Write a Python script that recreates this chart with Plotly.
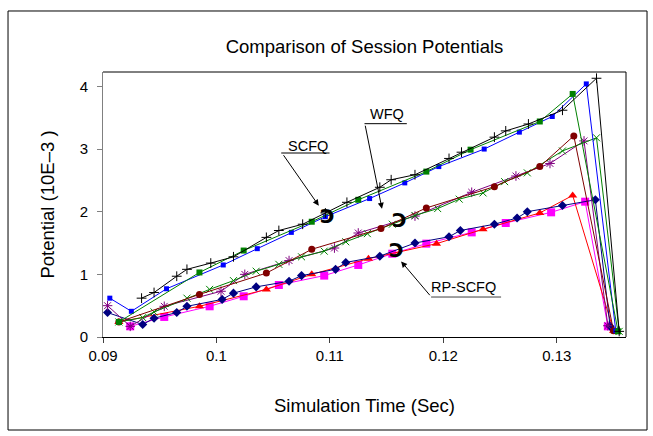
import plotly.graph_objects as go

# ---- data ----
scfq_plus_x = [0.0934, 0.0945, 0.0965, 0.0974, 0.0995, 0.1015, 0.1044, 0.1055, 0.1076, 0.1096, 0.1115,
               0.1144, 0.1154, 0.1175, 0.1205, 0.1216, 0.1245, 0.1255, 0.1275, 0.1305, 0.1335, 0.1355]
scfq_plus_y = [0.62, 0.71, 0.97, 1.08, 1.18, 1.28, 1.59, 1.70, 1.80, 1.98, 2.15,
               2.39, 2.51, 2.59, 2.85, 2.95, 3.19, 3.29, 3.40, 3.62, 4.13, 0.09]

scfq_gsq_x = [0.0914, 0.0985, 0.1024, 0.1084, 0.1125, 0.1185, 0.1224, 0.1285, 0.1314, 0.1354]
scfq_gsq_y = [0.24, 1.03, 1.38, 1.84, 2.19, 2.64, 2.99, 3.44, 3.88, 0.09]

scfq_bsq_x = [0.0906, 0.0925, 0.0956, 0.1006, 0.1036, 0.1066, 0.1096, 0.1135, 0.1166, 0.1196,
              0.1236, 0.1267, 0.1296, 0.1326, 0.1352]
scfq_bsq_y = [0.62, 0.41, 0.77, 1.15, 1.41, 1.67, 1.92, 2.21, 2.46, 2.72,
              3.00, 3.27, 3.52, 4.04, 0.10]

wfq_circ_x = [0.0914, 0.0985, 0.1044, 0.1084, 0.1145, 0.1185, 0.1245, 0.1285, 0.1315, 0.1350]
wfq_circ_y = [0.24, 0.68, 1.02, 1.40, 1.73, 2.06, 2.40, 2.72, 3.21, 0.10]

wfq_x_x = [0.0914, 0.0935, 0.0945, 0.0974, 0.0994, 0.1015, 0.1035, 0.1055, 0.1075, 0.1095, 0.1114,
           0.1133, 0.1155, 0.1175, 0.1195, 0.1214, 0.1235, 0.1254, 0.1274, 0.1305, 0.1335, 0.1355]
wfq_x_y = [0.24, 0.31, 0.40, 0.62, 0.76, 0.90, 1.05, 1.16, 1.28, 1.37, 1.52,
           1.65, 1.80, 1.94, 2.05, 2.20, 2.30, 2.48, 2.62, 2.97, 3.18, 0.09]

wfq_ast_x = [0.0904, 0.0924, 0.0954, 0.1004, 0.1025, 0.1064, 0.1104, 0.1125, 0.1175, 0.1225,
             0.1264, 0.1294, 0.1324, 0.1345]
wfq_ast_y = [0.50, 0.17, 0.49, 0.73, 1.00, 1.22, 1.42, 1.66, 1.93, 2.31,
             2.57, 2.77, 3.13, 0.18]

rp_dia_x = [0.0904, 0.0935, 0.0945, 0.0965, 0.0974, 0.1005, 0.1015, 0.1035, 0.1064, 0.1075, 0.1105,
            0.1114, 0.1144, 0.1175, 0.1205, 0.1215, 0.1245, 0.1265, 0.1274, 0.1305, 0.1334, 0.1347]
rp_dia_y = [0.39, 0.20, 0.30, 0.39, 0.49, 0.60, 0.70, 0.80, 0.89, 0.98, 1.08,
            1.19, 1.29, 1.50, 1.60, 1.70, 1.80, 1.90, 2.00, 2.10, 2.19, 0.17]

rp_tri_x = [0.0914, 0.0985, 0.1044, 0.1084, 0.1134, 0.1194, 0.1235, 0.1285, 0.1314, 0.1350]
rp_tri_y = [0.24, 0.49, 0.76, 1.00, 1.25, 1.49, 1.72, 1.98, 2.26, 0.10]

rp_msq_x = [0.0924, 0.0954, 0.0994, 0.1024, 0.1055, 0.1095, 0.1125, 0.1155, 0.1185, 0.1225,
            0.1255, 0.1295, 0.1325, 0.1345]
rp_msq_y = [0.17, 0.32, 0.49, 0.65, 0.83, 0.98, 1.15, 1.33, 1.49, 1.67,
            1.82, 1.99, 2.16, 0.17]

x_tick_vals = [0.09, 0.10, 0.11, 0.12, 0.13]
x_tick_text = ["0.09", "0.1", "0.11", "0.12", "0.13"]
y_tick_vals = [0, 1, 2, 3, 4]
y_tick_text = ["0", "1", "2", "3", "4"]

FONT = "Liberation Sans, Arial, sans-serif"

fig = go.Figure()

def add(x, y, color, symbol, size, open_line=False):
    marker = dict(symbol=symbol, size=size, color=color)
    if open_line:
        marker["line"] = dict(color=color, width=1)
    fig.add_trace(go.Scatter(x=x, y=y, mode="lines+markers",
                             line=dict(color=color, width=1),
                             marker=marker, showlegend=False, hoverinfo="skip"))

add(rp_msq_x, rp_msq_y, "#ff00ff", "square", 8)
add(rp_tri_x, rp_tri_y, "#ff0000", "triangle-up", 8)
add(rp_dia_x, rp_dia_y, "#000080", "diamond", 7)
add(wfq_ast_x, wfq_ast_y, "#800080", "asterisk", 8, True)
add(wfq_x_x, wfq_x_y, "#008000", "x-thin", 7, True)
add(wfq_circ_x, wfq_circ_y, "#800000", "circle", 7)
add(scfq_bsq_x, scfq_bsq_y, "#0000ff", "square", 5)
add(scfq_gsq_x, scfq_gsq_y, "#008000", "square", 6)
add(scfq_plus_x, scfq_plus_y, "#000000", "cross-thin", 7, True)

ann_font = dict(family=FONT, size=14.5, color="black")

annotations = [
    dict(x=0.10803, y=3.053, text="SCFQ", showarrow=False, font=ann_font, xanchor="center", yanchor="middle"),
    dict(x=0.11503, y=3.564, text="WFQ", showarrow=False, font=ann_font, xanchor="center", yanchor="middle"),
    dict(x=0.12177, y=0.795, text="RP-SCFQ", showarrow=False, font=ann_font, xanchor="center", yanchor="middle"),
    # arrows
    dict(x=0.10902, y=2.096, ax=0.10582, ay=2.926, axref="x", ayref="y", text="", showarrow=True,
         arrowhead=2, arrowsize=1.2, arrowwidth=1, arrowcolor="black"),
    dict(x=0.11459, y=2.048, ax=0.11309, ay=3.397, axref="x", ayref="y", text="", showarrow=True,
         arrowhead=2, arrowsize=1.2, arrowwidth=1, arrowcolor="black"),
    dict(x=0.11628, y=1.207, ax=0.11892, ay=0.643, axref="x", ayref="y", text="", showarrow=True,
         arrowhead=2, arrowsize=1.2, arrowwidth=1, arrowcolor="black"),
]
hook_font = dict(family="DejaVu Sans", size=20, color="black")
for hx, hy in [(0.10979, 1.936), (0.11613, 1.872), (0.11587, 1.393)]:
    annotations.append(dict(x=hx, y=hy, text="<b>Ↄ</b>", showarrow=False, font=hook_font,
                            xanchor="center", yanchor="middle"))

shapes = [
    # underlines
    dict(type="line", xref="x", yref="y", x0=0.10571, x1=0.10997, y0=2.937, y1=2.937, line=dict(color="black", width=1)),
    dict(type="line", xref="x", yref="y", x0=0.11305, x1=0.11678, y0=3.405, y1=3.405, line=dict(color="black", width=1)),
    dict(type="line", xref="x", yref="y", x0=0.11892, x1=0.12509, y0=0.638, y1=0.638, line=dict(color="#404040", width=1)),
    # plot frame (top / right)
    dict(type="line", xref="paper", yref="paper", x0=0, x1=1, y0=1, y1=1, line=dict(color="black", width=1)),
    dict(type="line", xref="paper", yref="paper", x0=1, x1=1, y0=0, y1=1, line=dict(color="black", width=1)),
    # outer border
    dict(type="rect", xref="paper", yref="paper", x0=-0.1816, x1=1.0402, y0=-0.351, y1=1.2302,
         line=dict(color="black", width=1), fillcolor="rgba(0,0,0,0)", layer="below"),
]

fig.update_layout(
    width=653, height=436,
    margin=dict(l=103, r=27, t=72, b=99, autoexpand=False),
    paper_bgcolor="white", plot_bgcolor="white",
    font=dict(family=FONT, color="black"),
    title=dict(text="Comparison of Session Potentials", x=0.5, xref="paper", xanchor="center",
               y=1 - 47 / 436, yref="container", yanchor="middle",
               font=dict(family=FONT, size=18.5, color="black")),
    annotations=annotations,
    shapes=shapes,
    showlegend=False,
)
fig.update_xaxes(range=[0.09, 0.1361], tickvals=x_tick_vals, ticktext=x_tick_text,
                 showgrid=False, zeroline=False, showline=True, linecolor="black", linewidth=1,
                 ticks="outside", ticklen=5, tickcolor="#404040",
                 tickfont=dict(family=FONT, size=15, color="black"),
                 title=dict(text="Simulation Time (Sec)", standoff=36, font=dict(family=FONT, size=18.5, color="black")))
fig.update_yaxes(range=[0, 4.23], tickvals=y_tick_vals, ticktext=y_tick_text,
                 showgrid=False, zeroline=False, showline=True, linecolor="#808080", linewidth=1,
                 ticks="outside", ticklen=5, tickcolor="#808080", ticklabelstandoff=6,
                 tickfont=dict(family=FONT, size=15, color="black"),
                 title=dict(text="Potential (10E–3 )", standoff=20, font=dict(family=FONT, size=18.5, color="black")))

fig.write_html("out.html", config={"displayModeBar": False},
               post_script="document.body.style.margin='0px';document.body.style.padding='0px';")
